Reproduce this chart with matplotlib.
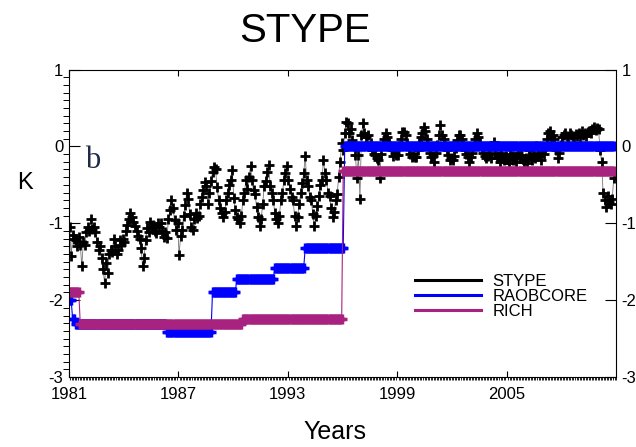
import matplotlib
matplotlib.use("Agg")
import matplotlib.pyplot as plt
import numpy as np
from matplotlib import ticker

plt.rcParams['font.family'] = ['Liberation Sans', 'DejaVu Sans']
plt.rcParams['axes.unicode_minus'] = False

# monthly STYPE anomalies (K), Jan 1981 .. Nov 2010
stype_by_year = {
    1981: [-1.05, -1.43, -1.15, -1.20, -1.22, -1.30, -1.18, -1.28, -1.56, -1.25, -1.28, -1.12],
    1982: [-1.05, -1.10, -0.94, -1.07, -1.05, -1.12, -1.24, -1.35, -1.30, -1.45, -1.60, -1.78],
    1983: [-1.52, -1.65, -1.40, -1.35, -1.38, -1.20, -1.30, -1.40, -1.35, -1.22, -1.28, -1.20],
    1984: [-1.25, -1.10, -1.02, -0.95, -0.87, -0.92, -0.98, -1.04, -1.10, -1.17, -1.20, -1.32],
    1985: [-1.56, -1.45, -1.22, -1.06, -1.12, -0.98, -1.05, -1.02, -1.10, -1.13, -1.00, -1.05],
    1986: [-1.00, -1.10, -1.18, -1.12, -1.19, -0.95, -0.83, -0.70, -0.80, -0.96, -1.09, -1.00],
    1987: [-1.41, -1.17, -1.09, -0.90, -0.76, -0.61, -0.68, -0.88, -1.05, -1.09, -0.95, -0.87],
    1988: [-0.93, -0.90, -0.75, -0.66, -0.57, -0.46, -0.52, -0.75, -0.60, -0.45, -0.33, -0.27],
    1989: [-0.30, -0.53, -0.70, -0.80, -0.87, -0.92, -0.85, -0.70, -0.60, -0.50, -0.44, -0.31],
    1990: [-0.67, -0.83, -0.92, -0.95, -1.00, -0.90, -0.70, -0.60, -0.44, -0.55, -0.40, -0.26],
    1991: [-0.44, -0.57, -0.62, -0.79, -0.92, -1.04, -0.95, -0.75, -0.52, -0.45, -0.33, -0.24],
    1992: [-0.52, -0.60, -0.70, -0.87, -0.95, -1.00, -0.90, -0.70, -0.60, -0.44, -0.35, -0.26],
    1993: [-0.44, -0.55, -0.66, -0.70, -0.90, -1.04, -0.92, -0.75, -0.61, -0.48, -0.35, -0.13],
    1994: [-0.44, -0.52, -0.66, -0.70, -0.88, -1.04, -0.90, -0.78, -0.65, -0.50, -0.44, -0.18],
    1995: [-0.35, -0.44, -0.60, -0.65, -0.80, -0.92, -0.85, -0.70, -0.62, -0.40, -0.20, 0.04],
    1996: [-0.05, 0.17, 0.32, 0.30, 0.18, 0.22, 0.08, 0.02, -0.11, -0.41, -0.11, -0.68],
    1997: [0.15, 0.30, 0.17, 0.12, 0.15, 0.00, 0.05, -0.05, -0.10, -0.11, -0.15, -0.18],
    1998: [-0.41, -0.10, 0.05, 0.10, 0.17, 0.12, 0.05, 0.00, -0.05, -0.12, -0.08, -0.11],
    1999: [-0.11, 0.00, 0.10, 0.19, 0.19, 0.15, 0.05, -0.02, -0.10, -0.14, -0.12, -0.14],
    2000: [-0.14, -0.05, 0.05, 0.12, 0.17, 0.25, 0.20, 0.10, 0.00, -0.08, -0.14, -0.12],
    2001: [-0.20, -0.09, 0.02, 0.15, 0.28, 0.15, 0.10, 0.00, -0.05, -0.11, -0.18, -0.15],
    2002: [-0.18, -0.12, -0.02, 0.08, 0.15, 0.15, 0.10, 0.02, -0.05, -0.10, -0.14, -0.20],
    2003: [-0.14, -0.08, 0.00, 0.10, 0.17, 0.12, 0.05, -0.02, -0.08, -0.12, -0.15, -0.12],
    2004: [-0.09, -0.15, 0.00, 0.06, -0.10, -0.15, -0.12, -0.20, -0.09, -0.15, -0.18, -0.12],
    2005: [-0.16, -0.22, -0.10, -0.12, -0.18, -0.14, -0.20, -0.09, -0.15, -0.11, -0.17, -0.20],
    2006: [-0.15, -0.22, -0.05, -0.12, -0.18, -0.10, -0.15, 0.00, -0.08, -0.12, -0.18, -0.05],
    2007: [-0.10, -0.02, 0.10, 0.17, 0.20, 0.12, 0.15, 0.10, -0.05, -0.15, -0.08, 0.02],
    2008: [0.12, 0.15, 0.17, 0.13, 0.12, 0.17, 0.15, 0.14, 0.12, 0.16, 0.14, 0.18],
    2009: [0.12, 0.20, 0.15, 0.17, 0.14, 0.19, 0.20, 0.18, 0.22, 0.25, 0.21, 0.24],
    2010: [0.22, -0.05, -0.20, -0.61, -0.70, -0.79, -0.65, -0.72, -0.75, -0.68, -0.41],
}

# step adjustments as (number of months, value) runs from Jan 1981
raobcore_runs = [(2, -2.00), (2, -2.25), (60, -2.31), (30, -2.42), (16, -1.90),
                 (25, -1.72), (20, -1.58), (26, -1.32), (178, 0.00)]
rich_runs = [(7, -1.89), (107, -2.31), (66, -2.24), (179, -0.32)]

year_ticks = [1981, 1987, 1993, 1999, 2005]

stype = np.concatenate([stype_by_year[y] for y in sorted(stype_by_year)])
months = 1981 + (np.arange(len(stype)) + 0.5) / 12.0


def expand(runs):
    return np.concatenate([np.full(n, v) for n, v in runs])


raobcore = expand(raobcore_runs)
rich = expand(rich_runs)

fig = plt.figure(figsize=(6.36, 4.47), dpi=100)
ax = fig.add_axes([0.1083, 0.1566, 0.8603, 0.6879])

ax.plot(months, stype, color='#777777', lw=0.6, marker='+', ms=7, mew=2.0,
        mec='black', label='STYPE')
ax.plot(months, raobcore, color='blue', lw=0.8, marker='+', ms=7, mew=2.5,
        label='RAOBCORE')
ax.plot(months, rich, color='#A8237F', lw=0.8, marker='+', ms=7, mew=2.5,
        label='RICH')

ax.set_xlim(1981, 2011)
ax.set_ylim(-3, 1)
ax.xaxis.set_major_locator(ticker.FixedLocator(year_ticks))
ax.xaxis.set_minor_locator(ticker.MultipleLocator(1 / 12))
ax.yaxis.set_major_locator(ticker.MultipleLocator(1))
ax.yaxis.set_minor_locator(ticker.MultipleLocator(0.1))
ax.yaxis.set_major_formatter(ticker.FormatStrFormatter('%d'))

ax.tick_params(direction='in', top=True, right=True, labelright=True,
               labelsize=12, width=0.8)
ax.tick_params(axis='x', which='major', length=4.3, pad=7)
ax.tick_params(axis='x', which='minor', length=2.2, width=0.6)
ax.tick_params(axis='y', which='major', length=8, pad=4)
ax.tick_params(axis='y', which='minor', length=4.3, width=0.7)
for s in ax.spines.values():
    s.set_linewidth(0.8)

ax.set_ylabel('K', rotation=0, fontsize=17, va='center', ha='center')
ax.yaxis.set_label_coords(-0.080, 0.631)
ax.set_xlabel('Years', fontsize=18, va='center')
ax.xaxis.set_label_coords(0.4865, -0.179)

ax.text(1981.9, -0.28, 'b', family=['Liberation Serif', 'DejaVu Serif'],
        fontsize=22, color='#1f2a44', va='baseline')

fig.text(305 / 636, 1 - 31 / 447, 'STYPE', fontsize=29, ha='center', va='center')

handles = [plt.Line2D([], [], color=c, lw=2.2) for c in ['black', 'blue', '#A8237F']]
ax.legend(handles, ['STYPE', 'RAOBCORE', 'RICH'], loc='center left',
          bbox_to_anchor=(0.632, 0.261), frameon=False, fontsize=12,
          handlelength=4.0, handletextpad=0.67, labelspacing=0.0,
          borderaxespad=0, borderpad=0)

fig.savefig('out.png', dpi=100)
